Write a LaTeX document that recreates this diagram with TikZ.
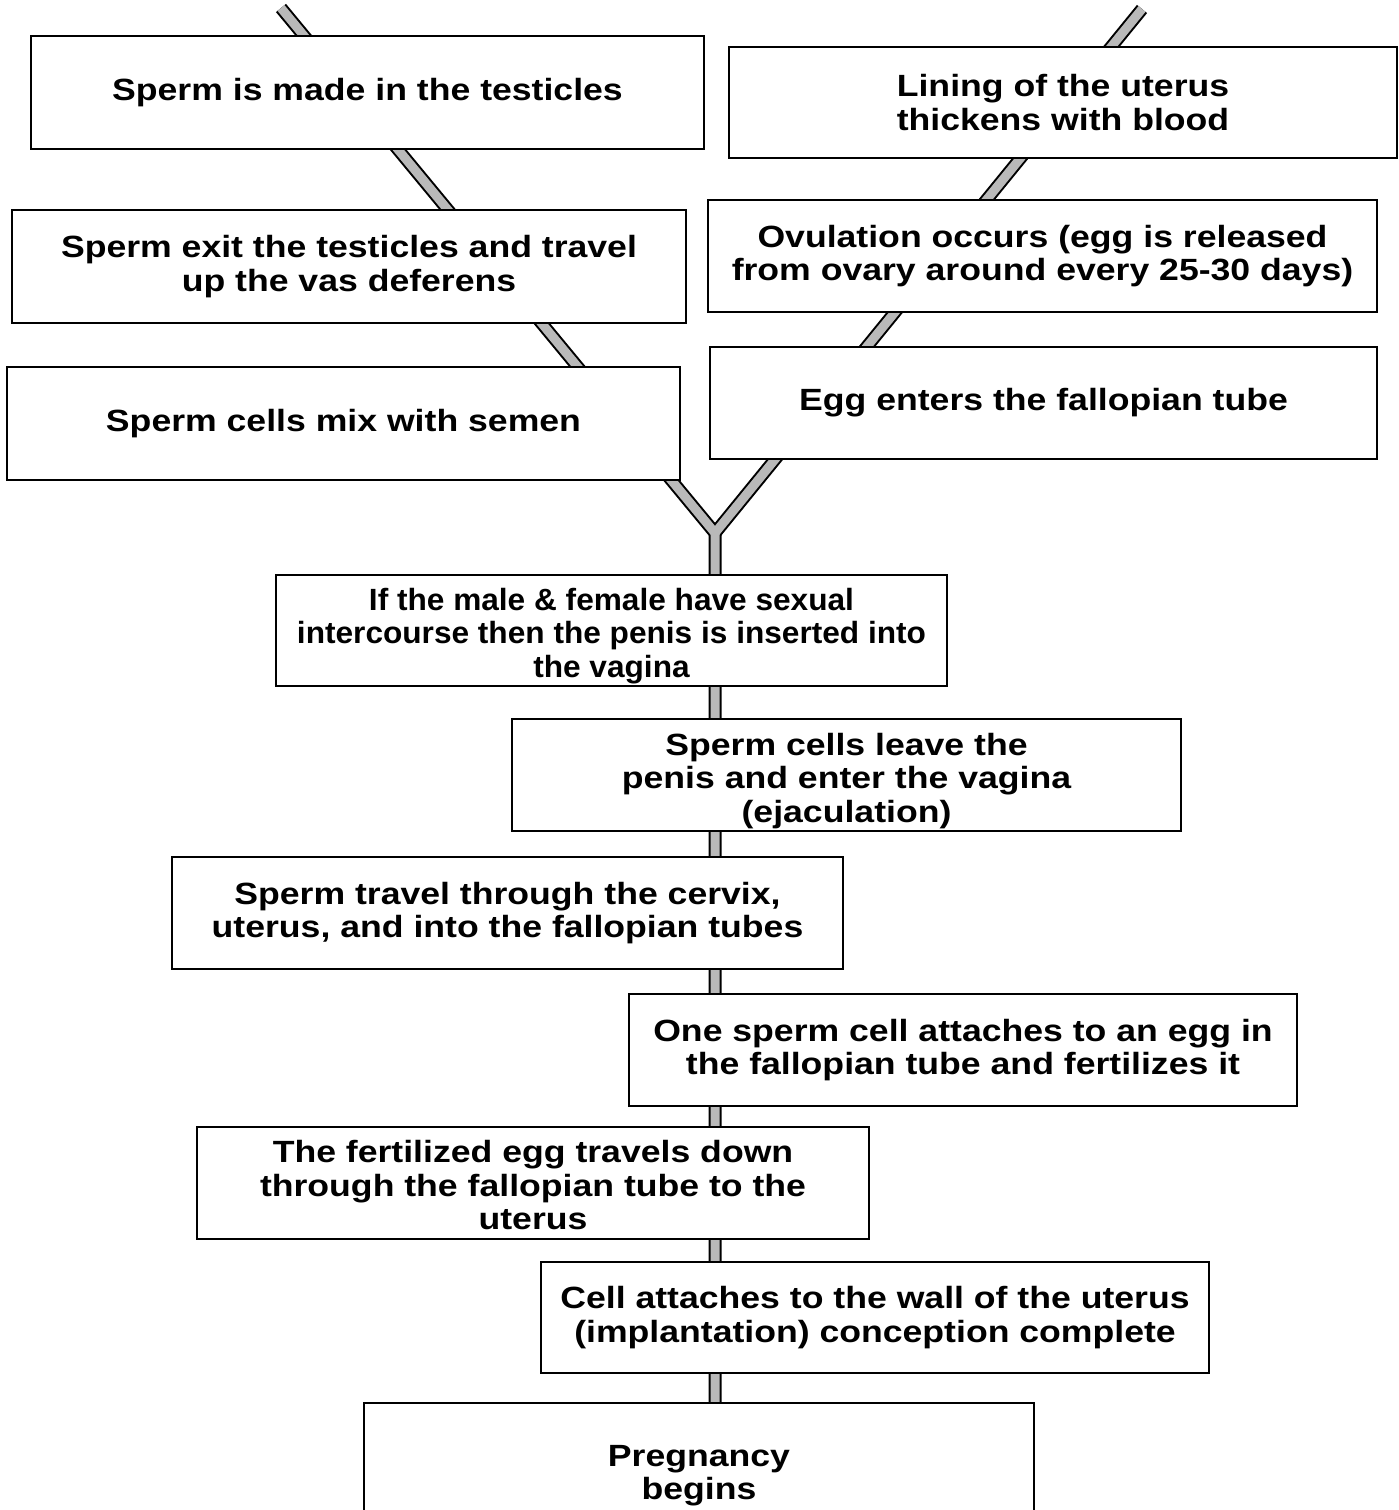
\documentclass[tikz,border=0pt]{standalone}
\usepackage{fontspec}
\newfontfamily\boxfont[FakeStretch=1.16]{Liberation Sans}
\newfontfamily\narrowfont[FakeStretch=1.03]{Liberation Sans}
\begin{document}
\begin{tikzpicture}[x=1pt,y=-1pt,
  box/.style={draw=black, line width=1.6pt, fill=white, inner sep=0pt, align=center,
    font=\boxfont\bfseries\fontsize{30.7}{33.5}\selectfont},
  narrowbox/.style={box, font=\narrowfont\bfseries\fontsize{30.7}{33.5}\selectfont},
  bandout/.style={draw=black, line width=13pt, line join=round},
  bandin/.style={draw=gray!55, line width=9pt, line join=round}]
\useasboundingbox (0,0) rectangle (1398,1510);
% connectors (behind boxes)
\coordinate (mtop) at (281,8);
\coordinate (ftop) at (1142,9);
\coordinate (j) at (715,533);
\coordinate (bot) at (715,1430);
\draw[bandout] (mtop) -- (j) -- (bot);
\draw[bandout] (ftop) -- (j);
\draw[bandin] (mtop) -- (j) -- (bot);
\draw[bandin] (ftop) -- (j);
% boxes
\node[box, minimum width=673, minimum height=113] (n1) at (367.5,92.5) {Sperm is made in the testicles};
\node[box, minimum width=668, minimum height=111] (n2) at (1063,102.5) {Lining of the uterus\\thickens with blood};
\node[box, minimum width=674, minimum height=113] (n3) at (349,266.5) {Sperm exit the testicles and travel\\up the vas deferens};
\node[box, minimum width=669, minimum height=112] (n4) at (1042.5,256) {Ovulation occurs (egg is released\\from ovary around every 25-30 days)};
\node[box, minimum width=673, minimum height=113] (n5) at (343.5,423.5) {Sperm cells mix with semen};
\node[box, minimum width=667, minimum height=112] (n6) at (1043.5,403) {Egg enters the fallopian tube};
\node[narrowbox, minimum width=671, minimum height=111] (n7) at (611.5,630.5) {\rule{0pt}{33pt}If the male \& female have sexual\\intercourse then the penis is inserted into\\the vagina};
\node[box, minimum width=669, minimum height=112] (n8) at (846.5,775) {\rule{0pt}{34pt}Sperm cells leave the\\penis and enter the vagina\\(ejaculation)};
\node[box, minimum width=671, minimum height=112] (n9) at (507.5,913) {Sperm travel through the cervix,\\uterus, and into the fallopian tubes};
\node[box, minimum width=668, minimum height=112] (n10) at (963,1050) {One sperm cell attaches to an egg in\\the fallopian tube and fertilizes it};
\node[box, minimum width=672, minimum height=112] (n11) at (533,1183) {\rule{0pt}{27pt}The fertilized egg travels down\\through the fallopian tube to the\\uterus};
\node[box, minimum width=668, minimum height=111] (n12) at (875,1317.5) {Cell attaches to the wall of the uterus\\(implantation) conception complete};
\node[box, minimum width=670, minimum height=145] (n13) at (699,1475.5) {Pregnancy\\begins};
\end{tikzpicture}
\end{document}
